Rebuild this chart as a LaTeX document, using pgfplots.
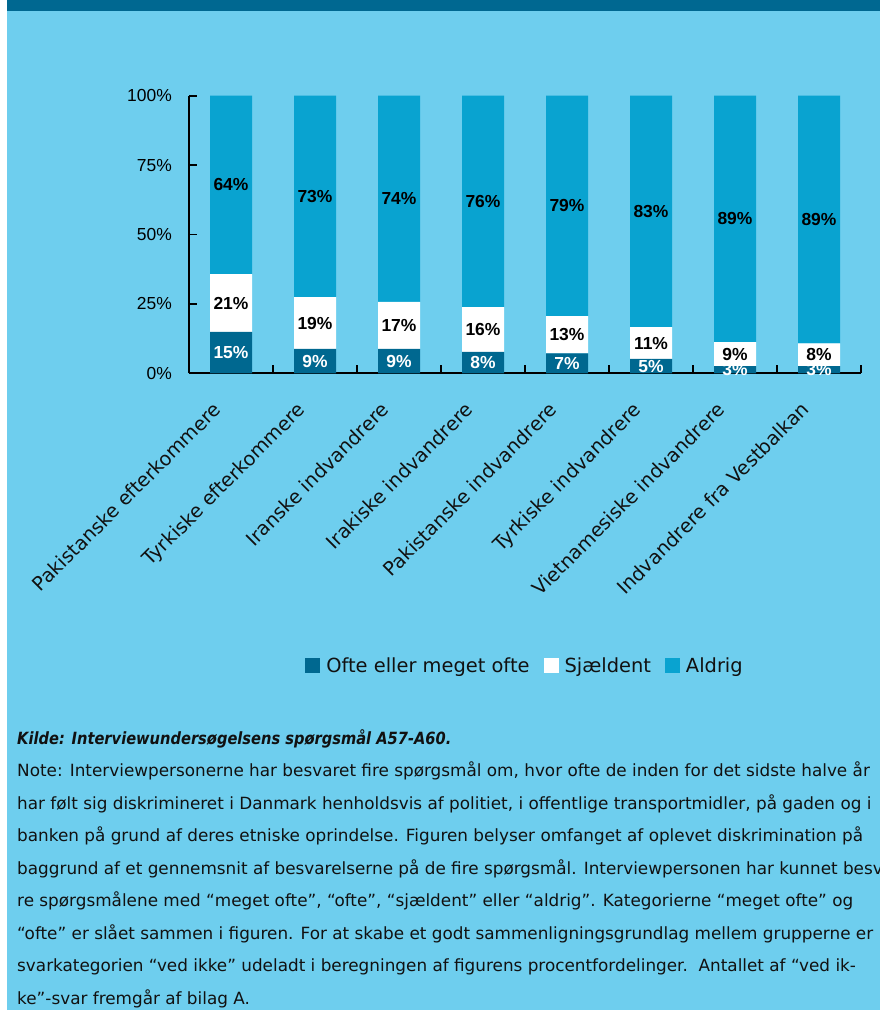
\documentclass[border=0pt]{standalone}
\usepackage{pgfplots}
\pgfplotsset{compat=1.18}
\usepackage{pgfplotstable}
\usepackage{fontspec}
\setmainfont{Liberation Sans}
\newfontfamily\tahoma{DejaVu Sans}
\newfontfamily\kildefont[FakeStretch=0.87]{DejaVu Sans}

\definecolor{bgblue}{HTML}{6ECEEE}
\definecolor{band}{HTML}{006891}
\definecolor{aldrig}{HTML}{09A3D0}
\definecolor{ofte}{HTML}{006890}
\definecolor{ink}{HTML}{111111}

% segment heights (labels show them rounded)
\pgfplotstableread{
x ofte sjaeldent aldrig
0 14.9 20.8 64.3
1 8.8  18.6 72.6
2 8.8  16.9 74.3
3 7.7  16.1 76.2
4 7.2  13.4 79.4
5 5.2  11.4 83.4
6 2.6  8.6  88.8
7 2.6  8.2  89.2
}\data

\pgfplotsset{
  /pgf/number format/assume math mode=true,
  sqleg/.style={legend image code/.code={\fill[##1] (0bp,-7.5bp) rectangle (15bp,7.5bp);}},
  seglabel/.style={
    point meta=explicit,
    nodes near coords={\pgfmathprintnumber[fixed,precision=0]{\pgfplotspointmeta}\%},
    every node near coord/.append style={anchor=center, font=\labfont, text=#1},
  },
}
\newcommand\labfont{\fontsize{17.5}{20}\selectfont\bfseries}

\begin{document}
\begin{tikzpicture}
\fill[bgblue] (0,0) rectangle (880bp,-1010bp);
\useasboundingbox (0,0) rectangle (880bp,-1010bp);
\fill[white] (0,0) rectangle (7bp,-1010bp);
\fill[band] (7bp,0) rectangle (880bp,-11bp);

\begin{axis}[
  at={(189bp,-373.3bp)}, anchor=south west,
  scale only axis, width=672bp, height=277.6bp,
  ybar stacked, bar width=42bp,
  xmin=-0.5, xmax=7.5, ymin=0, ymax=100,
  axis x line*=bottom, axis y line*=left,
  axis line style={line width=2.2bp, black, -},
  tick align=inside,
  tick style={line width=1.8bp, black},
  major tick length=8bp, minor tick length=8bp,
  xtick={0,...,7},
  major x tick style={draw=none},
  minor xtick={0.5,1.5,...,7.5},
  xticklabels={Pakistanske efterkommere, Tyrkiske efterkommere, Iranske indvandrere, Irakiske indvandrere, Pakistanske indvandrere, Tyrkiske indvandrere, Vietnamesiske indvandrere, Indvandrere fra Vestbalkan},
  xticklabel style={font=\tahoma\fontsize{19.4}{22}\selectfont, text=ink, xshift=-19bp, yshift=-27bp, rotate=45, anchor=north east, inner sep=0pt},
  ytick={0,25,50,75,100},
  yticklabel={\pgfmathprintnumber{\tick}\%},
  yticklabel style={font=\fontsize{17.5}{20}\selectfont, inner sep=0pt, xshift=-17bp},
  legend style={at={(0.5,-1.054)}, anchor=center, draw=none, fill=none,
    legend columns=-1, font=\tahoma\fontsize{19.5}{22}\selectfont, text=ink,
    /tikz/every odd column/.append style={column sep=4bp},
    /tikz/every even column/.append style={column sep=12bp}},
]
\addplot[fill=ofte, draw=none, sqleg, seglabel=white]
  table[x=x, y=ofte, meta=ofte] {\data};
\addplot[fill=white, draw=none, sqleg, seglabel=black]
  table[x=x, y=sjaeldent, meta=sjaeldent] {\data};
\addplot[fill=aldrig, draw=none, sqleg, seglabel=black]
  table[x=x, y=aldrig, meta=aldrig] {\data};
\legend{Ofte eller meget ofte, Sjældent, Aldrig}
\end{axis}

\begin{scope}[every node/.style={anchor=base west, inner sep=0pt, text=ink,
    font=\tahoma\fontsize{16.9}{20}\selectfont}]
\node at (17bp,-744bp) {\kildefont\bfseries\itshape Kilde: Interviewundersøgelsens spørgsmål A57-A60.};
\node at (17bp,-776.5bp) {Note: Interviewpersonerne har besvaret fire spørgsmål om, hvor ofte de inden for det sidste halve år};
\node at (17bp,-809bp) {har følt sig diskrimineret i Danmark henholdsvis af politiet, i offentlige transportmidler, på gaden og i};
\node at (17bp,-841.5bp) {banken på grund af deres etniske oprindelse. Figuren belyser omfanget af oplevet diskrimination på};
\node at (17bp,-874bp) {baggrund af et gennemsnit af besvarelserne på de fire spørgsmål. Interviewpersonen har kunnet besva-};
\node at (17bp,-906.5bp) {re spørgsmålene med “meget ofte”, “ofte”, “sjældent” eller “aldrig”. Kategorierne “meget ofte” og};
\node at (17bp,-939bp) {“ofte” er slået sammen i figuren. For at skabe et godt sammenligningsgrundlag mellem grupperne er};
\node at (17bp,-971.5bp) {svarkategorien “ved ikke” udeladt i beregningen af figurens procentfordelinger.\ \ Antallet af “ved ik-};
\node at (17bp,-1004bp) {ke”-svar fremgår af bilag A.};
\end{scope}
\end{tikzpicture}
\end{document}
